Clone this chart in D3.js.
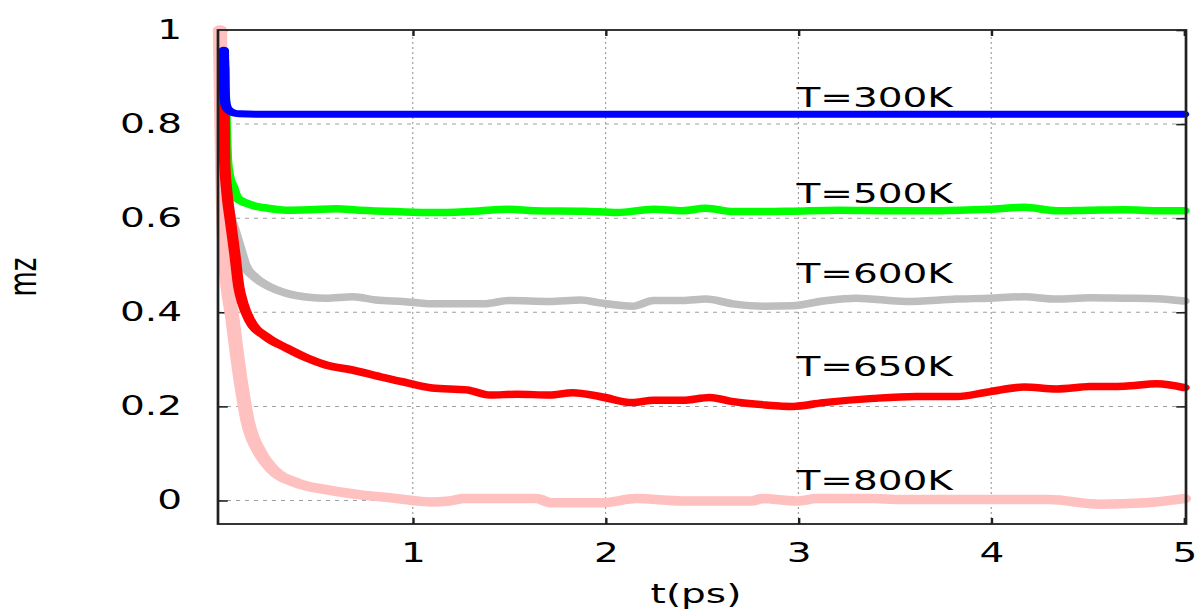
<!DOCTYPE html>
<html>
<head>
<meta charset="utf-8">
<script src="https://cdn.jsdelivr.net/npm/d3@7"></script>
<style>
  html, body { margin: 0; padding: 0; background: #fff; overflow: hidden; }
  svg { display: block; }
</style>
</head>
<body>
<svg id="chart" width="1196" height="610"></svg>
<script>
// Magnetization mz(t) relaxation at several temperatures, t in ps.
const seriesNames = ["T=300K", "T=500K", "T=600K", "T=650K", "T=800K"];

const mz300 = [
  [0.02, 0.957], [0.022, 0.88], [0.028, 0.845], [0.035, 0.835], [0.05, 0.828],
  [0.07, 0.824], [0.1, 0.822], [0.2, 0.821], [0.5, 0.821], [1.0, 0.821],
  [1.5, 0.821], [2.0, 0.821], [2.5, 0.821], [3.0, 0.821], [3.5, 0.821],
  [4.0, 0.821], [4.5, 0.821], [5.0, 0.821]
];

const mz500 = [
  [0.02, 0.935], [0.024, 0.85], [0.03, 0.77], [0.035, 0.72], [0.045, 0.69],
  [0.065, 0.667], [0.085, 0.645], [0.11, 0.637], [0.137, 0.632], [0.18, 0.626],
  [0.22, 0.623], [0.345, 0.617], [0.47, 0.618], [0.6, 0.62], [0.725, 0.617],
  [0.915, 0.614], [1.1, 0.612], [1.28, 0.614], [1.5, 0.619], [1.63, 0.616],
  [1.89, 0.615], [2.06, 0.612], [2.25, 0.619], [2.4, 0.616], [2.52, 0.621],
  [2.66, 0.614], [2.83, 0.614], [2.97, 0.615], [3.21, 0.617], [3.47, 0.616],
  [3.73, 0.616], [3.99, 0.619], [4.17, 0.623], [4.34, 0.616], [4.51, 0.617],
  [4.69, 0.618], [4.86, 0.616], [5.0, 0.616]
];

const mz600 = [
  [0.02, 0.9], [0.03, 0.72], [0.04, 0.64], [0.055, 0.6], [0.07, 0.58],
  [0.1, 0.54], [0.13, 0.5], [0.18, 0.475], [0.24, 0.458], [0.35, 0.44],
  [0.46, 0.432], [0.55, 0.43], [0.69, 0.433], [0.81, 0.426], [0.95, 0.423],
  [1.1, 0.418], [1.28, 0.418], [1.37, 0.418], [1.5, 0.425], [1.71, 0.423],
  [1.87, 0.426], [1.97, 0.42], [2.14, 0.413], [2.25, 0.425], [2.4, 0.425],
  [2.52, 0.428], [2.66, 0.418], [2.83, 0.413], [2.97, 0.414], [3.13, 0.424],
  [3.3, 0.43], [3.56, 0.423], [3.82, 0.428], [3.99, 0.43], [4.17, 0.433],
  [4.34, 0.428], [4.51, 0.431], [4.69, 0.43], [4.86, 0.429], [5.0, 0.424]
];

const mz650 = [
  [0.02, 0.92], [0.025, 0.72], [0.035, 0.66], [0.054, 0.596], [0.077, 0.525],
  [0.098, 0.454], [0.118, 0.42], [0.155, 0.383], [0.24, 0.348], [0.345, 0.324],
  [0.45, 0.303], [0.55, 0.288], [0.69, 0.277], [0.83, 0.263], [0.95, 0.252],
  [1.1, 0.239], [1.28, 0.235], [1.4, 0.224], [1.54, 0.226], [1.71, 0.224],
  [1.83, 0.229], [1.97, 0.221], [2.14, 0.208], [2.25, 0.213], [2.4, 0.213],
  [2.54, 0.219], [2.66, 0.21], [2.83, 0.203], [2.97, 0.2], [3.13, 0.208],
  [3.39, 0.217], [3.61, 0.221], [3.82, 0.221], [3.99, 0.231], [4.17, 0.241],
  [4.34, 0.237], [4.51, 0.242], [4.69, 0.243], [4.86, 0.248], [5.0, 0.24]
];

const mz800 = [
  [0.0, 1.0], [0.005, 0.87], [0.012, 0.7], [0.025, 0.525], [0.066, 0.383],
  [0.113, 0.24], [0.143, 0.17], [0.21, 0.1], [0.275, 0.065], [0.4, 0.037],
  [0.55, 0.023], [0.73, 0.012], [0.9, 0.005], [1.0, 0.0], [1.09, -0.003],
  [1.19, -0.001], [1.27, 0.004], [1.45, 0.004], [1.64, 0.004], [1.72, -0.005],
  [1.98, -0.005], [2.16, 0.004], [2.4, -0.001], [2.76, -0.001], [2.81, 0.004],
  [2.99, -0.001], [3.1, 0.004], [3.4, 0.004], [3.5, 0.002], [4.3, 0.002],
  [4.56, -0.008], [4.8, -0.005], [5.0, 0.004]
];

const xTickValues = [1, 2, 3, 4, 5];
const yTickValues = [0, 0.2, 0.4, 0.6, 0.8, 1];
const xGridValues = [1, 2, 3, 4];
const yGridValues = [0, 0.2, 0.4, 0.6, 0.8];

// Where each temperature tag sits (t, mz at text centre)
const tagT = 2.99;
const tagMz = [0.857, 0.653, 0.483, 0.284, 0.042];

// ---- drawing ----
// The plot is laid out in a narrow coordinate frame and stretched 1.5x horizontally.
const W = 1196 / 1.5, H = 610;
const svg = d3.select("#chart")
  .attr("viewBox", `0 0 ${W} ${H}`)
  .attr("preserveAspectRatio", "none");

const plotLeft = 145.33, plotRight = 790.67, plotTop = 30, plotBottom = 524;
const x = d3.scaleLinear().domain([-0.01, 5.01]).range([plotLeft, plotRight]);
const y = d3.scaleLinear().domain([-0.05, 1]).range([plotBottom, plotTop]);

const FONT = "DejaVu Sans, Verdana, sans-serif";
const FS = 26;

// grid
const grid = svg.append("g");
grid.selectAll("line.h").data(yGridValues).join("line")
  .attr("class", "h")
  .attr("x1", plotLeft).attr("x2", plotRight)
  .attr("y1", d => y(d)).attr("y2", d => y(d))
  .attr("stroke", "#a0a0a0").attr("stroke-width", 1)
  .attr("stroke-dasharray", "2.7,3.3");
grid.selectAll("line.v").data(xGridValues).join("line")
  .attr("class", "v")
  .attr("x1", d => x(d)).attr("x2", d => x(d))
  .attr("y1", plotBottom).attr("y2", plotTop)
  .attr("stroke", "#a0a0a0").attr("stroke-width", 0.8)
  .attr("stroke-dasharray", "2,3");

// axes with inward ticks, mirrored on top/right
function styleAxis(g) {
  g.attr("font-family", FONT).attr("font-size", FS);
  g.select(".domain").remove();
  g.selectAll(".tick line").attr("stroke", "#202020").attr("stroke-width", 1.6);
  g.selectAll(".tick text").attr("fill", "#000");
}
const fmt = d => (Math.round(d * 10) / 10).toString();

svg.append("g").attr("transform", `translate(0,${plotBottom})`)
  .call(d3.axisBottom(x).tickValues(xTickValues).tickSizeInner(-6).tickSizeOuter(0)
        .tickPadding(19.5).tickFormat(fmt))
  .call(styleAxis);
svg.append("g").attr("transform", `translate(0,${plotTop})`)
  .call(d3.axisTop(x).tickValues(xTickValues).tickSizeInner(-6).tickSizeOuter(0)
        .tickFormat(""))
  .call(styleAxis);
svg.append("g").attr("transform", `translate(${plotLeft},0)`)
  .call(d3.axisLeft(y).tickValues(yTickValues).tickSizeInner(-6.5).tickSizeOuter(0)
        .tickPadding(24).tickFormat(fmt))
  .call(styleAxis);
svg.append("g").attr("transform", `translate(${plotRight},0)`)
  .call(d3.axisRight(y).tickValues(yTickValues).tickSizeInner(-6.5).tickSizeOuter(0)
        .tickFormat(""))
  .call(styleAxis);

// curves
const line = d3.line().curve(d3.curveMonotoneX).x(d => x(d[0])).y(d => y(d[1]));
const curves = [
  { data: mz800, color: "#ffc0c0", width: 9.5 },
  { data: mz600, color: "#bebebe", width: 7.5 },
  { data: mz500, color: "#00ff00", width: 7.5 },
  { data: mz650, color: "#ff0000", width: 7.5 },
  { data: mz300, color: "#0000ff", width: 7 }
];
svg.append("g").selectAll("path").data(curves).join("path")
  .attr("d", d => line(d.data))
  .attr("fill", "none")
  .attr("stroke", d => d.color)
  .attr("stroke-width", d => d.width)
  .attr("stroke-linejoin", "round")
  .attr("stroke-linecap", "round");

// frame
svg.append("rect")
  .attr("x", plotLeft).attr("y", plotTop)
  .attr("width", plotRight - plotLeft).attr("height", plotBottom - plotTop)
  .attr("fill", "none").attr("stroke", "#202020").attr("stroke-width", 1.8);

// temperature tags
svg.append("g").selectAll("text").data(seriesNames).join("text")
  .attr("x", x(tagT))
  .attr("y", (d, i) => y(tagMz[i]))
  .attr("dy", "0.36em")
  .attr("font-family", FONT).attr("font-size", FS).attr("fill", "#000")
  .text(d => d);

// axis titles
svg.append("text")
  .attr("x", 464).attr("y", 603)
  .attr("text-anchor", "middle")
  .attr("font-family", FONT).attr("font-size", FS).attr("fill", "#000")
  .text("t(ps)");
svg.append("text")
  .attr("transform", `translate(24,${(plotTop + plotBottom) / 2}) rotate(-90)`)
  .attr("text-anchor", "middle")
  .attr("font-family", FONT).attr("font-size", FS).attr("fill", "#000")
  .text("mz");
</script>
</body>
</html>
